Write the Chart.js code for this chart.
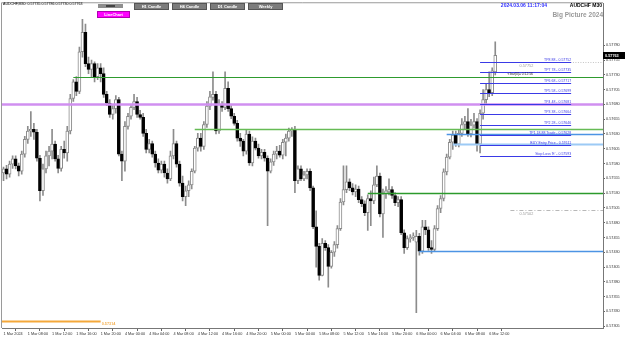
<!DOCTYPE html>
<html>
<head>
<meta charset="utf-8">
<script src="https://cdn.jsdelivr.net/npm/chart.js@4.4.1/dist/chart.umd.min.js"></script>
<style>
html, body { margin: 0; padding: 0; background: #fff; }
canvas { display: block; }
</style>
</head>
<body>
<canvas id="audchf-m30" width="625" height="337"></canvas>
<script>
// AUDCHF M30 candles, 1 Mar 04:00 -> 6 Mar 13:00 (server time)
const open = [
    0.57564, 0.57571, 0.57562, 0.57579, 0.57588, 0.57576, 0.57567, 0.57596, 0.57621, 0.57635,
    0.57638, 0.57633, 0.57589, 0.57534, 0.57571, 0.57593, 0.57601, 0.57613, 0.57588, 0.57572,
    0.57604, 0.57598, 0.57635, 0.57690, 0.57718, 0.57702, 0.57769, 0.57802, 0.57749, 0.57739,
    0.57749, 0.57727, 0.57742, 0.57732, 0.57697, 0.57682, 0.57663, 0.57673, 0.57688, 0.57596,
    0.57584, 0.57643, 0.57660, 0.57675, 0.57685, 0.57663, 0.57658, 0.57631, 0.57604, 0.57614,
    0.57596, 0.57581, 0.57569, 0.57579, 0.57564, 0.57554, 0.57593, 0.57614, 0.57579, 0.57547,
    0.57524, 0.57534, 0.57544, 0.57567, 0.57606, 0.57623, 0.57609, 0.57646, 0.57677, 0.57692,
    0.57697, 0.57635, 0.57680, 0.57675, 0.57707, 0.57673, 0.57660, 0.57648, 0.57623, 0.57618,
    0.57601, 0.57630, 0.57581, 0.57618, 0.57606, 0.57593, 0.57599, 0.57589, 0.57567, 0.57583,
    0.57596, 0.57601, 0.57594, 0.57616, 0.57623, 0.57635, 0.57638, 0.57551, 0.57571, 0.57554,
    0.57561, 0.57567, 0.57539, 0.57473, 0.57440, 0.57391, 0.57445, 0.57438, 0.57406, 0.57430,
    0.57443, 0.57470, 0.57515, 0.57536, 0.57549, 0.57539, 0.57532, 0.57537, 0.57519, 0.57512,
    0.57497, 0.57521, 0.57517, 0.57544, 0.57559, 0.57495, 0.57529, 0.57532, 0.57536, 0.57526,
    0.57514, 0.57519, 0.57463, 0.57438, 0.57453, 0.57455, 0.57447, 0.57457, 0.57432, 0.57473,
    0.57468, 0.57438, 0.57435, 0.57470, 0.57504, 0.57521, 0.57566, 0.57591, 0.57616, 0.57628,
    0.57613, 0.57631, 0.57646, 0.57651, 0.57630, 0.57645, 0.57651, 0.57613, 0.57665, 0.57688,
    0.57705, 0.57700, 0.57735
];
const high = [
    0.57574, 0.57577, 0.57584, 0.57593, 0.57593, 0.57581, 0.57601, 0.57626, 0.57643, 0.57668,
    0.57648, 0.57638, 0.57594, 0.57579, 0.57601, 0.57609, 0.57638, 0.57618, 0.57594, 0.57609,
    0.57618, 0.57643, 0.57697, 0.57722, 0.57727, 0.57777, 0.57824, 0.57816, 0.57760, 0.57755,
    0.57752, 0.57749, 0.57749, 0.57742, 0.57702, 0.57688, 0.57678, 0.57695, 0.57692, 0.57601,
    0.57651, 0.57665, 0.57678, 0.57697, 0.57692, 0.57670, 0.57665, 0.57638, 0.57621, 0.57618,
    0.57601, 0.57588, 0.57584, 0.57584, 0.57571, 0.57601, 0.57638, 0.57618, 0.57584, 0.57559,
    0.57542, 0.57551, 0.57571, 0.57609, 0.57631, 0.57631, 0.57651, 0.57685, 0.57702, 0.57735,
    0.57702, 0.57688, 0.57685, 0.57735, 0.57718, 0.57678, 0.57665, 0.57653, 0.57631, 0.57621,
    0.57638, 0.57635, 0.57625, 0.57623, 0.57613, 0.57604, 0.57604, 0.57593, 0.57588, 0.57601,
    0.57609, 0.57611, 0.57621, 0.57630, 0.57640, 0.57641, 0.57643, 0.57576, 0.57576, 0.57567,
    0.57571, 0.57571, 0.57542, 0.57500, 0.57445, 0.57453, 0.57450, 0.57443, 0.57433, 0.57448,
    0.57475, 0.57521, 0.57576, 0.57576, 0.57554, 0.57546, 0.57544, 0.57542, 0.57524, 0.57517,
    0.57527, 0.57534, 0.57557, 0.57576, 0.57564, 0.57537, 0.57541, 0.57554, 0.57541, 0.57531,
    0.57524, 0.57524, 0.57468, 0.57458, 0.57460, 0.57463, 0.57467, 0.57462, 0.57484, 0.57484,
    0.57473, 0.57450, 0.57475, 0.57509, 0.57526, 0.57571, 0.57596, 0.57621, 0.57635, 0.57635,
    0.57638, 0.57656, 0.57660, 0.57673, 0.57655, 0.57665, 0.57656, 0.57671, 0.57705, 0.57715,
    0.57735, 0.57742, 0.57786
];
const low = [
    0.57551, 0.57554, 0.57557, 0.57572, 0.57571, 0.57559, 0.57562, 0.57591, 0.57614, 0.57626,
    0.57621, 0.57584, 0.57517, 0.57526, 0.57564, 0.57576, 0.57588, 0.57584, 0.57564, 0.57567,
    0.57589, 0.57584, 0.57630, 0.57685, 0.57695, 0.57698, 0.57760, 0.57744, 0.57732, 0.57727,
    0.57718, 0.57722, 0.57718, 0.57692, 0.57678, 0.57658, 0.57655, 0.57665, 0.57593, 0.57551,
    0.57567, 0.57638, 0.57655, 0.57671, 0.57658, 0.57655, 0.57626, 0.57598, 0.57598, 0.57591,
    0.57574, 0.57564, 0.57564, 0.57557, 0.57547, 0.57551, 0.57588, 0.57574, 0.57542, 0.57517,
    0.57509, 0.57524, 0.57537, 0.57564, 0.57601, 0.57601, 0.57604, 0.57641, 0.57671, 0.57687,
    0.57630, 0.57631, 0.57668, 0.57671, 0.57668, 0.57656, 0.57645, 0.57618, 0.57609, 0.57593,
    0.57596, 0.57577, 0.57576, 0.57603, 0.57589, 0.57588, 0.57584, 0.57475, 0.57564, 0.57577,
    0.57588, 0.57591, 0.57588, 0.57593, 0.57618, 0.57626, 0.57531, 0.57546, 0.57551, 0.57551,
    0.57554, 0.57534, 0.57470, 0.57405, 0.57383, 0.57390, 0.57433, 0.57371, 0.57403, 0.57423,
    0.57437, 0.57467, 0.57510, 0.57531, 0.57534, 0.57527, 0.57524, 0.57514, 0.57507, 0.57492,
    0.57467, 0.57475, 0.57512, 0.57541, 0.57490, 0.57455, 0.57521, 0.57527, 0.57521, 0.57509,
    0.57507, 0.57460, 0.57428, 0.57435, 0.57447, 0.57450, 0.57328, 0.57425, 0.57428, 0.57460,
    0.57433, 0.57428, 0.57432, 0.57467, 0.57497, 0.57517, 0.57561, 0.57588, 0.57604, 0.57609,
    0.57608, 0.57626, 0.57638, 0.57626, 0.57625, 0.57640, 0.57601, 0.57598, 0.57655, 0.57680,
    0.57693, 0.57695, 0.57730
];
const close = [
    0.57571, 0.57562, 0.57579, 0.57588, 0.57576, 0.57567, 0.57596, 0.57621, 0.57635, 0.57638,
    0.57633, 0.57589, 0.57534, 0.57571, 0.57593, 0.57601, 0.57613, 0.57588, 0.57572, 0.57604,
    0.57598, 0.57635, 0.57690, 0.57718, 0.57702, 0.57769, 0.57802, 0.57749, 0.57739, 0.57749,
    0.57727, 0.57742, 0.57732, 0.57697, 0.57682, 0.57663, 0.57673, 0.57688, 0.57596, 0.57584,
    0.57643, 0.57660, 0.57675, 0.57685, 0.57663, 0.57658, 0.57631, 0.57604, 0.57614, 0.57596,
    0.57581, 0.57569, 0.57579, 0.57564, 0.57554, 0.57593, 0.57614, 0.57579, 0.57547, 0.57524,
    0.57534, 0.57544, 0.57567, 0.57606, 0.57623, 0.57609, 0.57646, 0.57677, 0.57693, 0.57697,
    0.57635, 0.57680, 0.57675, 0.57707, 0.57673, 0.57660, 0.57648, 0.57623, 0.57618, 0.57601,
    0.57630, 0.57581, 0.57618, 0.57606, 0.57593, 0.57599, 0.57589, 0.57567, 0.57583, 0.57596,
    0.57601, 0.57594, 0.57616, 0.57623, 0.57635, 0.57638, 0.57551, 0.57571, 0.57554, 0.57561,
    0.57567, 0.57539, 0.57473, 0.57440, 0.57391, 0.57445, 0.57438, 0.57406, 0.57430, 0.57443,
    0.57470, 0.57515, 0.57536, 0.57549, 0.57539, 0.57532, 0.57537, 0.57519, 0.57512, 0.57497,
    0.57521, 0.57517, 0.57544, 0.57559, 0.57495, 0.57529, 0.57534, 0.57536, 0.57526, 0.57514,
    0.57519, 0.57463, 0.57438, 0.57453, 0.57455, 0.57458, 0.57457, 0.57432, 0.57473, 0.57468,
    0.57438, 0.57435, 0.57470, 0.57504, 0.57521, 0.57566, 0.57591, 0.57616, 0.57628, 0.57613,
    0.57631, 0.57646, 0.57651, 0.57630, 0.57645, 0.57651, 0.57613, 0.57665, 0.57688, 0.57705,
    0.57700, 0.57737, 0.57763
];

// time axis: a label every 8 bars (4 hours), free space after the last bar
const tickLabels = [
    "1 Mar 2024", "1 Mar 08:00", "1 Mar 12:00", "1 Mar 16:00", "1 Mar 20:00",
    "4 Mar 00:00", "4 Mar 04:00", "4 Mar 08:00", "4 Mar 12:00", "4 Mar 16:00", "4 Mar 20:00",
    "5 Mar 00:00", "5 Mar 04:00", "5 Mar 08:00", "5 Mar 12:00", "5 Mar 16:00", "5 Mar 20:00",
    "6 Mar 00:00", "6 Mar 04:00", "6 Mar 08:00", "6 Mar 12:00"
];
const tickStep = 8;
const slotCount = 198;

// price axis labels
const yTicks = [
    0.57780, 0.57755, 0.57730, 0.57705, 0.57680, 0.57655, 0.57630, 0.57605, 0.57580, 0.57555,
    0.57530, 0.57505, 0.57480, 0.57455, 0.57430, 0.57405, 0.57380, 0.57355, 0.57330, 0.57305
];

// horizontal levels drawn on the chart (price, first bar, last bar or null = right edge)
const levelPrice = [0.57727, 0.57681, 0.57638, 0.57630, 0.57613, 0.57531, 0.57433, 0.57502, 0.57752, 0.57314];
const levelFrom  = [23, 0, 63, 146, 148, 120, 137, 167, 167, 0];
const levelTo    = [null, null, null, null, null, null, null, null, null, 32];
const levelText  = ["", "", "", "", "", "", "", "0.57502", "0.57752", "0.57314"];

// trade panel levels
const tpNames = [
    "TP8 88", "TP7 78", "TP6 68", "TP5 58", "TP4 48", "TP3 38", "TP2 28",
    "TP1 18.88 Trade", "BUY Entry Price", "Stop Loss 'E'"
];
const tpPrices = [0.57752, 0.57735, 0.57717, 0.57699, 0.57681, 0.57664, 0.57646, 0.57628, 0.57611, 0.57593];
const tpFrom = 157, tpTo = 187;

const barTimer = "< bar(0)= 0:12:56";
const clock = "2024.03.06 11:17:04";

// styles
const levelStyle = [
    { color: "#2e9b2e", width: 1.2 },
    { color: "#d08ff0", width: 2.5 },
    { color: "#66bb55", width: 1.5 },
    { color: "#4c94e4", width: 1.5 },
    { color: "#9ccaf5", width: 2 },
    { color: "#2c9a2c", width: 1.5 },
    { color: "#4c94e4", width: 1.5 },
    { color: "#b8b8b8", width: 1, dash: [4, 2, 1, 2], label: "below" },
    { color: "#c4c4c4", width: 1, dash: [1, 1.5], label: "below" },
    { color: "#f4a83a", width: 2, label: "end" },
];
const FONT = '"Liberation Sans", Arial, sans-serif';
const font = (size, weight) => (weight || "normal") + " " + size + "px " + FONT;

const slots = [];
for (let i = 0; i < slotCount; i++) {
    const day = i < 40 ? 1 : 4 + Math.floor((i - 40) / 48);
    const mins = i < 40 ? 240 + i * 30 : ((i - 40) % 48) * 30;
    slots.push(day + " Mar " + String(Math.floor(mins / 60)).padStart(2, "0") + ":" + String(mins % 60).padStart(2, "0"));
}

const bull = close.map((c, i) => c >= open[i]);
const last = close.length - 1;

const overlay = {
    id: "overlay",
    afterDatasetsDraw(chart) {
        const { ctx, chartArea: area, scales: { x, y } } = chart;
        const xAt = i => x.getPixelForValue(i);
        const yAt = v => Math.round(y.getPixelForValue(v)) + 0.5;
        const hline = (x0, x1, yy) => { ctx.beginPath(); ctx.moveTo(x0, yy); ctx.lineTo(x1, yy); ctx.stroke(); };

        ctx.save();
        ctx.beginPath();
        ctx.rect(area.left, area.top, area.right - area.left, area.bottom - area.top);
        ctx.clip();

        levelPrice.forEach((p, k) => {
            const st = levelStyle[k];
            const yy = yAt(p);
            const x0 = levelFrom[k] === 0 ? area.left : xAt(levelFrom[k]);
            const x1 = levelTo[k] === null ? area.right : xAt(levelTo[k]);
            ctx.strokeStyle = st.color;
            ctx.lineWidth = st.width;
            ctx.setLineDash(st.dash || []);
            hline(x0, x1, yy);
            if (levelText[k]) {
                ctx.fillStyle = st.label === "end" ? "#f4b050" : "#9a9a9a";
                ctx.font = font(3.8, st.label === "end" ? "bold" : "normal");
                ctx.textAlign = "left";
                ctx.textBaseline = "top";
                if (st.label === "end") ctx.fillText(levelText[k], x1 + 1, yy + 0.5);
                else ctx.fillText(levelText[k], xAt(levelFrom[k] + 3), yy + 1.5);
            }
        });
        ctx.setLineDash([]);

        tpPrices.forEach((p, k) => {
            const yy = yAt(p);
            ctx.strokeStyle = "#3a3ae6";
            ctx.lineWidth = 1;
            hline(xAt(tpFrom), xAt(tpTo), yy);
            ctx.fillStyle = "#3a3ae6";
            ctx.font = font(3.5);
            ctx.textAlign = "right";
            ctx.textBaseline = "bottom";
            ctx.fillText(tpNames[k] + " - " + p.toFixed(5), xAt(tpTo), yy - 0.5);
        });

        ctx.fillStyle = "#222";
        ctx.font = font(3.3);
        ctx.textAlign = "left";
        ctx.textBaseline = "bottom";
        ctx.fillText(barTimer, xAt(last + 4), yAt(levelPrice[0]) - 1.5);
        ctx.restore();

        // frame left / top
        ctx.save();
        ctx.strokeStyle = "#9a9a9a";
        ctx.lineWidth = 1;
        ctx.beginPath();
        ctx.moveTo(area.left - 0.5, area.bottom);
        ctx.lineTo(area.left - 0.5, area.top - 0.5);
        ctx.lineTo(area.right, area.top - 0.5);
        ctx.stroke();

        // current price box on the axis
        const py = y.getPixelForValue(close[last]);
        ctx.fillStyle = "#000";
        ctx.fillRect(area.right, Math.round(py) - 3, 22, 7);
        ctx.fillStyle = "#fff";
        ctx.font = font(3.8, "bold");
        ctx.textAlign = "left";
        ctx.textBaseline = "middle";
        ctx.fillText(close[last].toFixed(5), area.right + 2, Math.round(py) + 0.5);

        // header
        ctx.fillStyle = "#000";
        ctx.font = font(3.6);
        ctx.textBaseline = "top";
        ctx.fillText("AUDCHF,M30: " + [open[last], high[last], low[last], close[last]].map(v => v.toFixed(5)).join(" "), 3, 2.5);

        // panel buttons
        ctx.fillStyle = "#8e8e8e";
        ctx.fillRect(98, 4, 25, 4);
        ctx.fillStyle = "#444";
        ctx.fillRect(106, 5, 9, 2);

        ctx.fillStyle = "#ff00ff";
        ctx.fillRect(97, 11, 33, 7);
        ctx.strokeStyle = "#b000b0";
        ctx.strokeRect(97.5, 11.5, 32, 6);
        ctx.fillStyle = "#fff";
        ctx.font = font(4, "bold");
        ctx.textAlign = "center";
        ctx.textBaseline = "middle";
        ctx.fillText("LineChart", 113.5, 14.7);

        ["H1 Candle", "H4 Candle", "D1 Candle", "Weekly"].forEach((t, k) => {
            const bx = 134 + k * 38;
            ctx.fillStyle = "#7c7c7c";
            ctx.fillRect(bx, 3, 35, 7);
            ctx.strokeStyle = "#555";
            ctx.strokeRect(bx + 0.5, 3.5, 34, 6);
            ctx.fillStyle = "#fff";
            ctx.fillText(t, bx + 17.5, 6.7);
        });

        // top right captions
        ctx.textAlign = "right";
        ctx.textBaseline = "top";
        ctx.fillStyle = "#2f2fff";
        ctx.font = font(5, "bold");
        ctx.fillText(clock, 547, 3);
        ctx.fillStyle = "#000";
        ctx.fillText("AUDCHF M30", 602, 3);
        ctx.fillStyle = "#9a9a9a";
        ctx.font = font(6.5, "bold");
        ctx.fillText("Big Picture 2024", 603, 12);
        ctx.restore();
    }
};

new Chart(document.getElementById("audchf-m30"), {
    type: "bar",
    data: {
        labels: slots,
        datasets: [{
            label: "body",
            data: open.map((o, i) => [o, close[i]]),
            backgroundColor: bull.map(b => b ? "#ffffff" : "#000000"),
            borderColor: bull.map(b => b ? "#8a8a8a" : "#000000"),
            borderWidth: 1,
            borderSkipped: false,
            barThickness: 3,
            minBarLength: 1,
            grouped: false,
            order: 1
        }, {
            label: "wick",
            data: low.map((l, i) => [l, high[i]]),
            backgroundColor: "#8c8c8c",
            barThickness: 1,
            grouped: false,
            order: 2
        }]
    },
    options: {
        responsive: false,
        animation: false,
        layout: { padding: { left: 2, top: 1, right: 0, bottom: 0 } },
        plugins: { legend: { display: false }, tooltip: { enabled: false } },
        scales: {
            x: {
                ticks: {
                    autoSkip: false,
                    maxRotation: 0,
                    align: "start",
                    padding: 1,
                    color: "#333",
                    font: { size: 3.8, family: FONT },
                    callback: (v, i) => (i % tickStep === 0 && i / tickStep < tickLabels.length) ? tickLabels[i / tickStep] : null
                },
                grid: { drawOnChartArea: false, tickLength: 3, color: "#666" },
                border: { color: "#777" },
                afterFit(s) { s.height = 9; }
            },
            y: {
                position: "right",
                min: 0.57302,
                max: 0.57851,
                afterBuildTicks(s) { s.ticks = yTicks.map(v => ({ value: v })); },
                ticks: {
                    padding: 1,
                    color: "#333",
                    font: { size: 3.8, family: FONT },
                    callback: v => v.toFixed(5)
                },
                grid: { drawOnChartArea: false, tickLength: 2, color: "#666" },
                border: { color: "#777" },
                afterFit(s) { s.width = 22; }
            }
        }
    },
    plugins: [overlay]
});
</script>
</body>
</html>
